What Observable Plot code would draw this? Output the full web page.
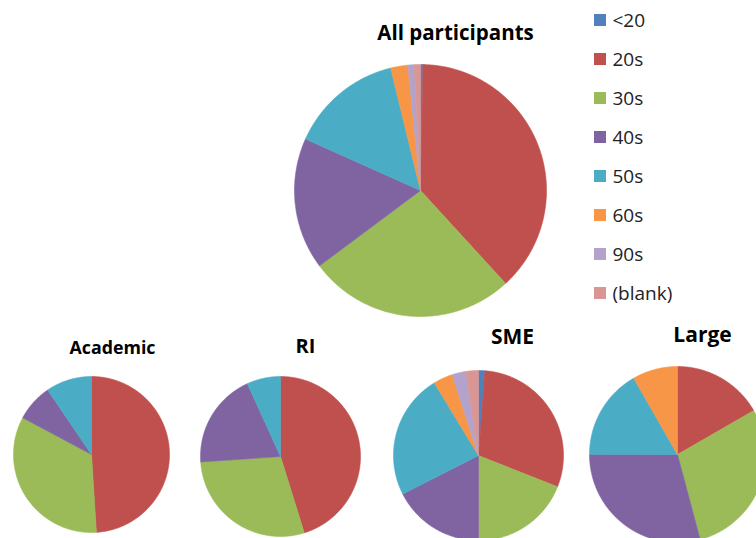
<!DOCTYPE html>
<html>
<head>
<meta charset="utf-8">
<script src="https://cdn.jsdelivr.net/npm/d3@7"></script>
<script src="https://cdn.jsdelivr.net/npm/@observablehq/plot@0.6"></script>
<style>
  html, body { margin: 0; padding: 0; background: #fff; }
  #chart svg { display: block; }
</style>
</head>
<body>
<div id="chart"></div>
<script>
// ---- data (percent shares) ----
const ages = ["<20", "20s", "30s", "40s", "50s", "60s", "90s", "(blank)"];
const ageColors = ["#4F81BD", "#C0504D", "#9BBB59", "#8064A2", "#4BACC6", "#F79646", "#B3A3CC", "#D99694"];
const groups = ["All participants", "Academic", "RI", "SME", "Large"];
const allParticipants = [0.3, 37.9, 26.6, 16.9, 14.5, 2.2, 0.8, 0.8];
const academic = [0, 49.0, 33.8, 7.7, 9.5, 0, 0, 0];
const ri = [0, 45.2, 28.7, 19.3, 6.8, 0, 0, 0];
const sme = [1.2, 29.8, 19.0, 17.5, 23.8, 3.7, 2.6, 2.4];
const large = [0, 16.7, 29.2, 29.2, 16.7, 8.3, 0, 0];
const groupValues = [allParticipants, academic, ri, sme, large];

// ---- layout (pixels) ----
const W = 756, H = 538;
const pieLayout = [
  {cx: 420, cy: 190, r: 126, tx: 455, ty: 33, fs: 20.5},
  {cx: 91,  cy: 454, r: 78,  tx: 112, ty: 348, fs: 17.8},
  {cx: 280, cy: 456, r: 80,  tx: 305, ty: 346, fs: 20},
  {cx: 478, cy: 455, r: 85,  tx: 512, ty: 337, fs: 21},
  {cx: 677, cy: 454, r: 88,  tx: 702, ty: 335, fs: 21}
];
const legendLayout = {x: 594, size: 12, textX: 612, y0: 20, step: 39, fs: 19};

// ---- derive slice outlines from the data with d3.pie ----
const pieGen = d3.pie().sort(null).value(d => d.value);
const slicePoints = [];
groups.forEach((g, gi) => {
  const L = pieLayout[gi];
  const arcs = pieGen(ages.map((a, i) => ({age: a, value: groupValues[gi][i]})));
  arcs.forEach(arc => {
    if (arc.data.value <= 0) return;
    const key = g + "|" + arc.data.age;
    const n = Math.max(2, Math.ceil((arc.endAngle - arc.startAngle) / (Math.PI / 360)));
    slicePoints.push({key, age: arc.data.age, x: L.cx, y: L.cy});
    for (let k = 0; k <= n; k++) {
      const t = arc.startAngle + (arc.endAngle - arc.startAngle) * k / n;
      slicePoints.push({key, age: arc.data.age, x: L.cx + L.r * Math.sin(t), y: L.cy - L.r * Math.cos(t)});
    }
    slicePoints.push({key, age: arc.data.age, x: L.cx, y: L.cy});
  });
});

const titles = groups.map((g, i) => ({title: g, x: pieLayout[i].tx, y: pieLayout[i].ty, fs: pieLayout[i].fs}));
const legendRows = ages.map((a, i) => ({age: a, y: legendLayout.y0 + legendLayout.step * i}));

const chart = Plot.plot({
  width: W,
  height: H,
  margin: 0,
  x: {type: "identity", axis: null},
  y: {type: "identity", axis: null},
  color: {domain: ages, range: ageColors},
  style: {fontFamily: "'Open Sans', sans-serif", background: "#fff"},
  marks: [
    Plot.line(slicePoints, {x: "x", y: "y", z: "key", fill: "age", stroke: "age", strokeWidth: 0.6, curve: "linear"}),
    ...titles.map(t => Plot.text([t], {x: "x", y: "y", text: "title", fontSize: t.fs, fontWeight: "bold", fill: "#000", textAnchor: "middle", lineAnchor: "middle"})),
    Plot.rect(legendRows, {
      x1: () => legendLayout.x, x2: () => legendLayout.x + legendLayout.size,
      y1: d => d.y - legendLayout.size / 2, y2: d => d.y + legendLayout.size / 2,
      fill: "age"
    }),
    Plot.text(legendRows, {x: () => legendLayout.textX, y: "y", text: "age", fontSize: legendLayout.fs, fill: "#222", textAnchor: "start", lineAnchor: "middle"})
  ]
});
document.getElementById("chart").append(chart);
</script>
</body>
</html>
